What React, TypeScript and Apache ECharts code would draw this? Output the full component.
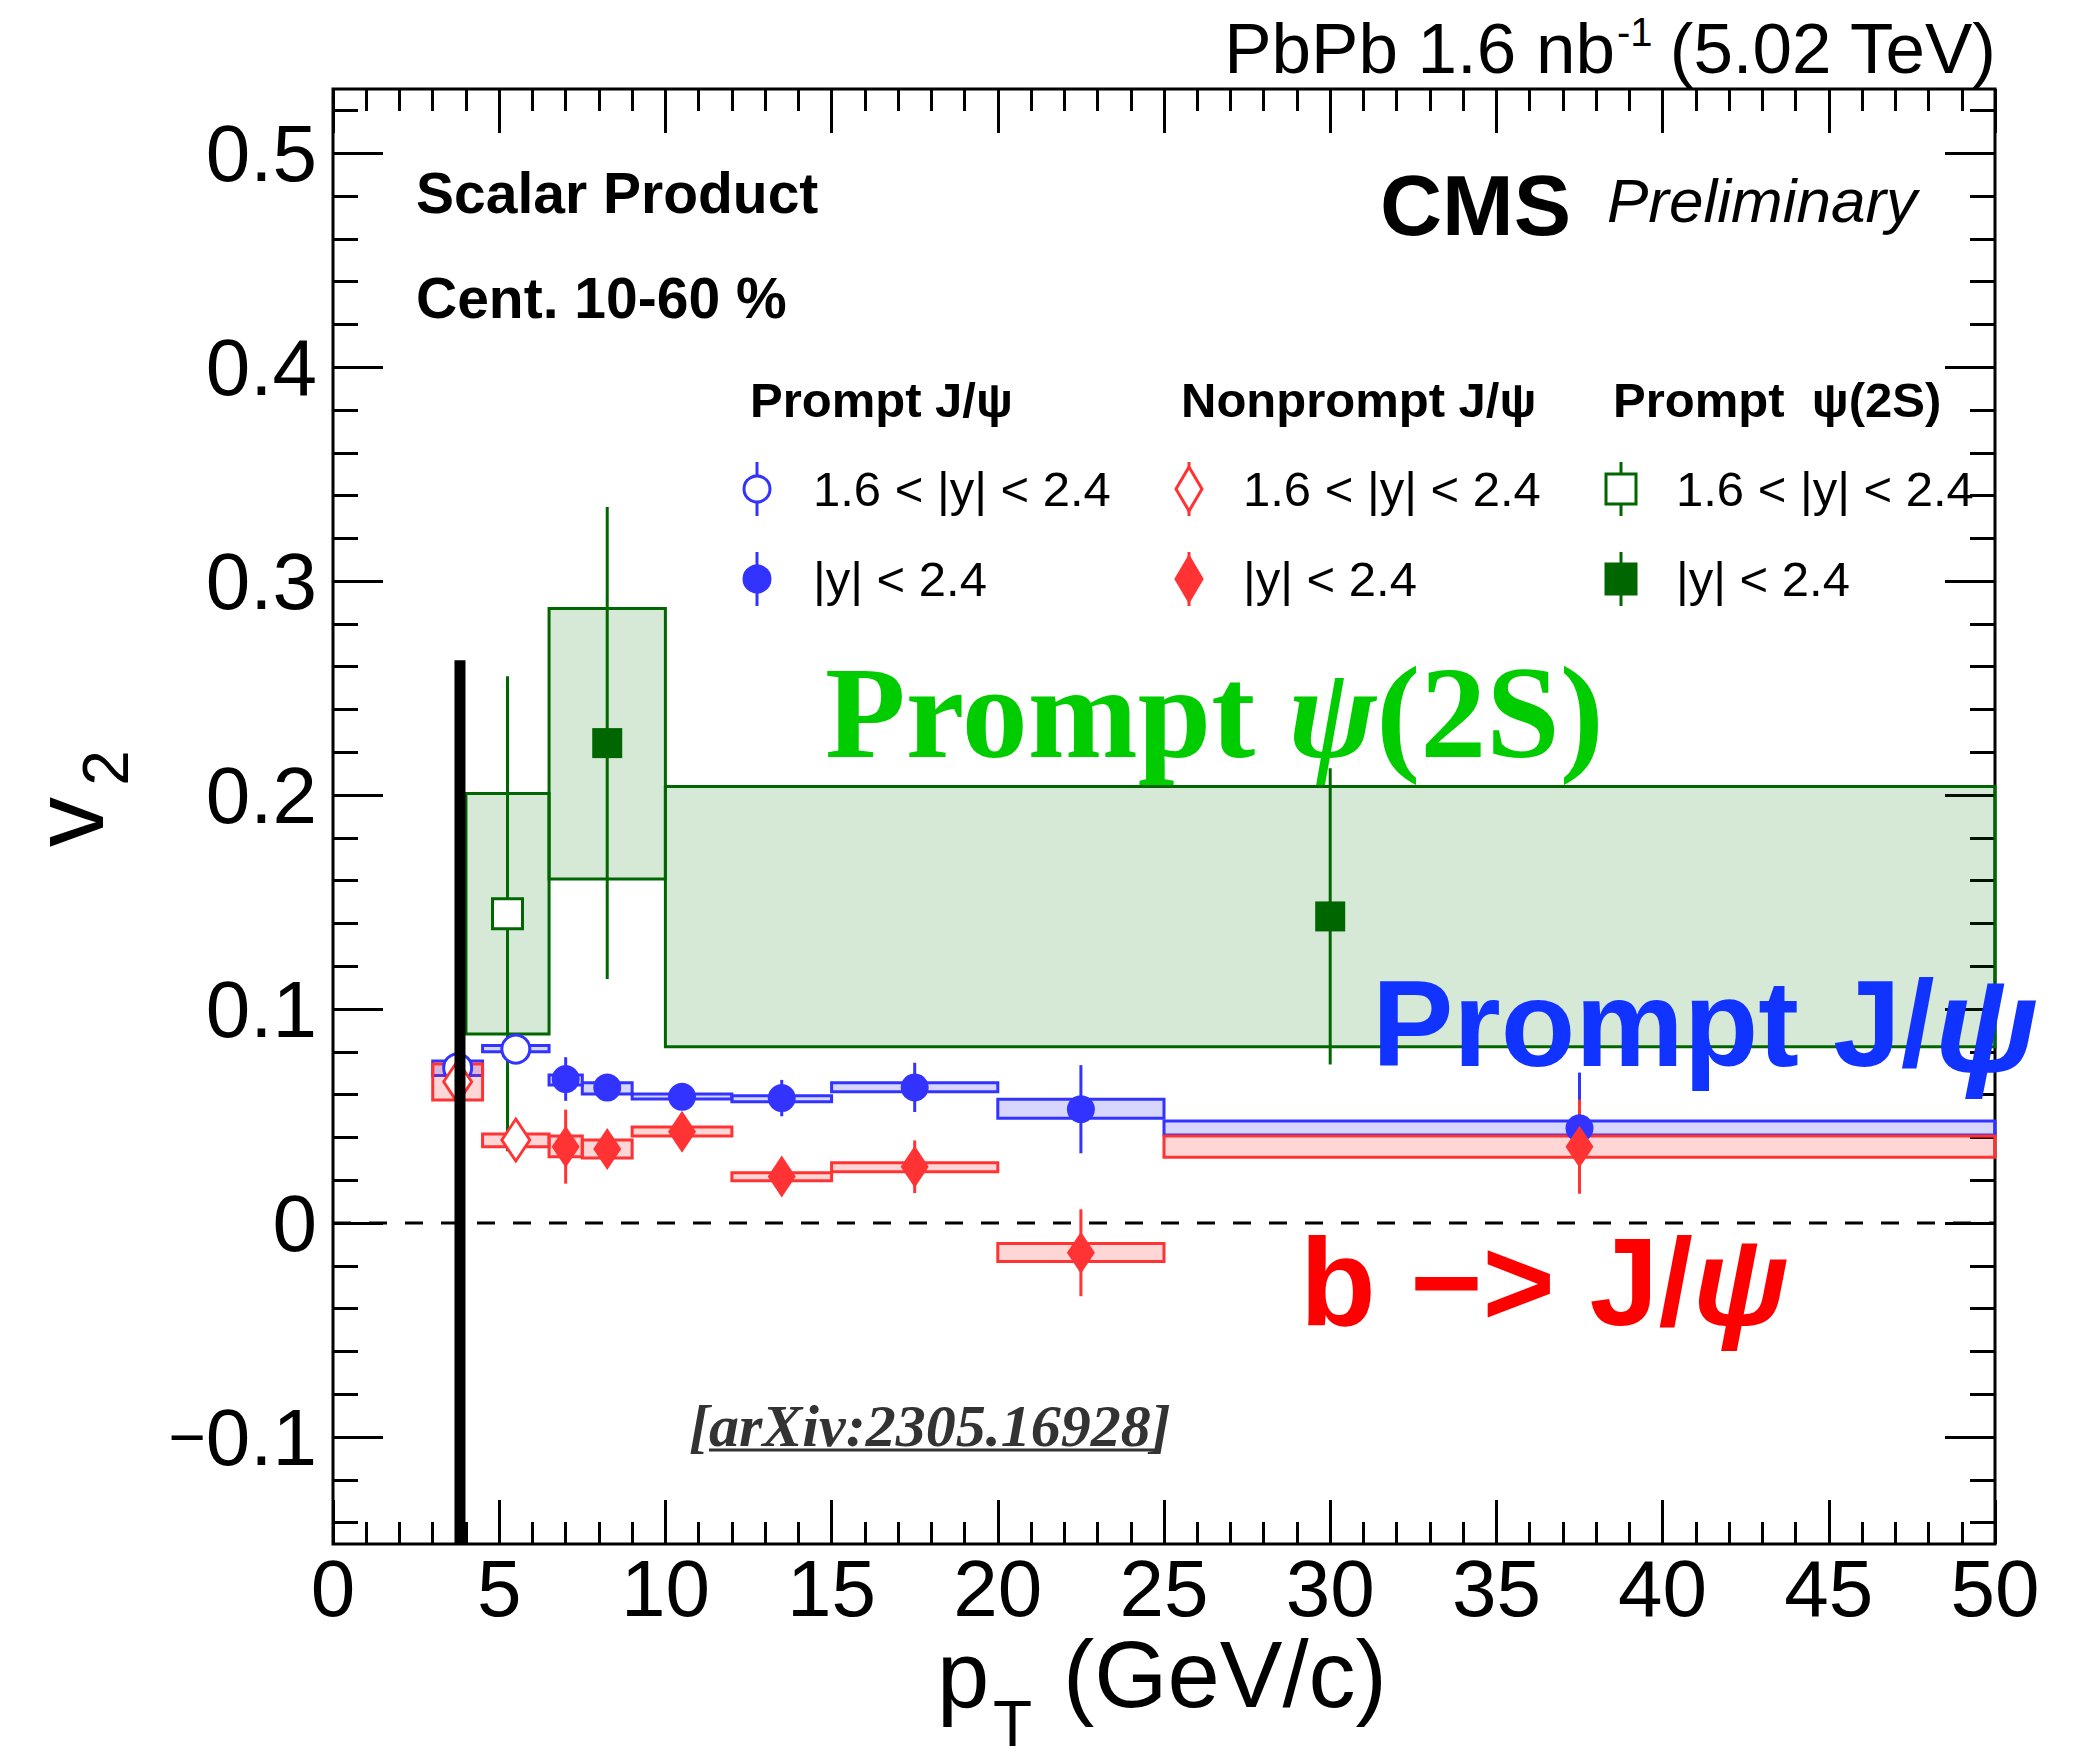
import React, { useEffect, useRef } from "react";
import * as echarts from "echarts";

const SANS = '"Liberation Sans", Arial, Helvetica, sans-serif';
const SERIF = '"Liberation Serif", "Times New Roman", serif';

// ---- axes ----
const xMin = 0;
const xMax = 50;
const xStep = 5;
const yMin = -0.15;
const yMax = 0.53;
const yMajorTicks = [-0.1, 0, 0.1, 0.2, 0.3, 0.4, 0.5];
const yMinorTicks = [
  -0.14, -0.12, -0.08, -0.06, -0.04, -0.02, 0.02, 0.04, 0.06, 0.08, 0.12, 0.14,
  0.16, 0.18, 0.22, 0.24, 0.26, 0.28, 0.32, 0.34, 0.36, 0.38, 0.42, 0.44, 0.46,
  0.48, 0.52,
];

// ---- Prompt J/psi, 1.6<|y|<2.4 (open circles) ----
const pjLowPt = [3.75, 5.5];
const pjLowV2 = [0.0725, 0.0813];
const pjLowStat = [0.004, 0.004];
const pjLowBinLo = [3.0, 4.5];
const pjLowBinHi = [4.5, 6.5];
const pjLowSysLo = [0.069, 0.08];
const pjLowSysHi = [0.0757, 0.083];

// ---- Prompt J/psi, |y|<2.4 (filled circles) ----
const pjPt = [7.0, 8.25, 10.5, 13.5, 17.5, 22.5, 37.5];
const pjV2 = [0.0673, 0.0633, 0.059, 0.0584, 0.0634, 0.0532, 0.0443];
const pjStat = [0.0102, 0.005, 0.005, 0.0085, 0.0115, 0.0206, 0.026];
const pjBinLo = [6.5, 7.5, 9, 12, 15, 20, 25];
const pjBinHi = [7.5, 9, 12, 15, 20, 25, 50];
const pjSysLo = [0.0645, 0.0603, 0.058, 0.0567, 0.0614, 0.049, 0.0411];
const pjSysHi = [0.0692, 0.0656, 0.0603, 0.0595, 0.0656, 0.0578, 0.0477];

// ---- Nonprompt J/psi, 1.6<|y|<2.4 (open diamonds) ----
const npLowPt = [3.75, 5.5];
const npLowV2 = [0.066, 0.0388];
const npLowStat = [0.008, 0.008];
const npLowBinLo = [3.0, 4.5];
const npLowBinHi = [4.5, 6.5];
const npLowSysLo = [0.0575, 0.0357];
const npLowSysHi = [0.0743, 0.0416];

// ---- Nonprompt J/psi, |y|<2.4 (filled diamonds) ----
const npPt = [7.0, 8.25, 10.5, 13.5, 17.5, 22.5, 37.5];
const npV2 = [0.0357, 0.0346, 0.0427, 0.0217, 0.0263, -0.0139, 0.0357];
const npStat = [0.0173, 0.008, 0.007, 0.008, 0.0123, 0.0203, 0.022];
const npBinLo = [6.5, 7.5, 9, 12, 15, 20, 25];
const npBinHi = [7.5, 9, 12, 15, 20, 25, 50];
const npSysLo = [0.031, 0.0304, 0.0407, 0.0198, 0.024, -0.018, 0.0307];
const npSysHi = [0.0407, 0.0388, 0.0449, 0.0235, 0.0282, -0.0096, 0.0407];

// ---- Prompt psi(2S), 1.6<|y|<2.4 (open square) ----
const psLowPt = [5.25];
const psLowV2 = [0.1445];
const psLowStat = [0.111];
const psLowBinLo = [4.0];
const psLowBinHi = [6.5];
const psLowSysLo = [0.0884];
const psLowSysHi = [0.2008];

// ---- Prompt psi(2S), |y|<2.4 (filled squares) ----
const psPt = [8.25, 30];
const psV2 = [0.2243, 0.1433];
const psStat = [0.1103, 0.0692];
const psBinLo = [6.5, 10];
const psBinHi = [10, 50];
const psSysLo = [0.1608, 0.0824];
const psSysHi = [0.2872, 0.204];

// ---- vertical black line ----
const blackLinePt = 3.82;
const blackLineV2 = [-0.15, 0.263];

// ---- colours ----
const BLUE = "#3333ff";
const BLUE_FILL = "rgba(51,51,255,0.2)";
const RED = "#ff3333";
const RED_FILL = "rgba(255,51,51,0.2)";
const GREEN = "#006600";
const GREEN_FILL = "rgba(0,110,0,0.16)";

const boxData = (lo: number[], hi: number[], ylo: number[], yhi: number[]) =>
  lo.map((l, i) => [l, hi[i], ylo[i], yhi[i]]);
const errData = (pt: number[], v: number[], e: number[]) =>
  pt.map((p, i) => [p, v[i] - e[i], v[i] + e[i]]);
const ptData = (pt: number[], v: number[]) => pt.map((p, i) => [p, v[i]]);

const boxSeries = (data: number[][], fill: string, stroke: string, z: number) => ({
  type: "custom",
  silent: true,
  z,
  data,
  encode: { x: [0, 1], y: [2, 3] },
  renderItem: (_p: any, api: any) => {
    const a = api.coord([api.value(0), api.value(3)]);
    const b = api.coord([api.value(1), api.value(2)]);
    return {
      type: "rect",
      shape: { x: a[0], y: a[1], width: b[0] - a[0], height: b[1] - a[1] },
      style: { fill, stroke, lineWidth: 3 },
    };
  },
});

const errSeries = (data: number[][], color: string, z: number) => ({
  type: "custom",
  silent: true,
  z,
  data,
  encode: { x: 0, y: [1, 2] },
  renderItem: (_p: any, api: any) => {
    const a = api.coord([api.value(0), api.value(1)]);
    const b = api.coord([api.value(0), api.value(2)]);
    return {
      type: "line",
      shape: { x1: a[0], y1: a[1], x2: b[0], y2: b[1] },
      style: { stroke: color, lineWidth: 3 },
    };
  },
});

const markerSeries = (
  data: number[][],
  symbol: string,
  size: any,
  color: string,
  open: boolean,
  z: number
) => ({
  type: "scatter",
  silent: true,
  z,
  data,
  symbol,
  symbolSize: size,
  itemStyle: open
    ? { color: "#ffffff", borderColor: color, borderWidth: 3, opacity: 1 }
    : { color, opacity: 1 },
});

const yFmt = (v: number) => {
  const r = Math.round(v * 10) / 10;
  if (r === 0) return "0";
  return r < 0 ? "{m|\u2212}" + (-r).toFixed(1) : r.toFixed(1);
};

const tickLine = { color: "#000", width: 3 };

function buildOption() {
  const T = (
    x: number,
    y: number,
    text: string,
    fontSize: number,
    extra: any = {}
  ) => ({
    type: "text",
    z: 100,
    x,
    y,
    style: {
      text,
      fontSize,
      fontFamily: SANS,
      fill: "#000",
      align: "left",
      verticalAlign: "middle",
      ...extra,
    },
  });

  const legendX = [757, 1189, 1621];
  const legendTextX = [813, 1243, 1676];
  const rowY = [489, 579];
  const legendColors = [BLUE, RED, GREEN];

  const legendEls: any[] = [];
  for (let c = 0; c < 3; c++) {
    for (let r = 0; r < 2; r++) {
      const cx = legendX[c];
      const cy = rowY[r];
      const col = legendColors[c];
      const fill = r === 0 ? "#ffffff" : col;
      legendEls.push({
        type: "line",
        z: 100,
        shape: { x1: cx, y1: cy - 27, x2: cx, y2: cy + 27 },
        style: { stroke: col, lineWidth: 3 },
      });
      if (c === 0) {
        legendEls.push({
          type: "circle",
          z: 101,
          shape: { cx, cy, r: 13 },
          style: { fill, stroke: col, lineWidth: 3 },
        });
      } else if (c === 1) {
        legendEls.push({
          type: "polygon",
          z: 101,
          shape: {
            points: [
              [cx, cy - 22],
              [cx + 13, cy],
              [cx, cy + 22],
              [cx - 13, cy],
            ],
          },
          style: { fill, stroke: col, lineWidth: 3 },
        });
      } else {
        legendEls.push({
          type: "rect",
          z: 101,
          shape: { x: cx - 15, y: cy - 15, width: 30, height: 30 },
          style: { fill, stroke: col, lineWidth: 3 },
        });
      }
      legendEls.push(
        T(legendTextX[c], cy, r === 0 ? "1.6 < |y| < 2.4" : "|y| < 2.4", 49)
      );
    }
  }

  const graphic: any[] = [
    // top right luminosity
    T(1615, 48, "PbPb 1.6 nb", 71, { align: "right" }),
    T(1617, 32, "-1", 40),
    T(1996, 48, "(5.02 TeV)", 71, { align: "right" }),
    // info text
    T(416, 193, "Scalar Product", 57, { fontWeight: "bold" }),
    T(416, 298, "Cent. 10-60 %", 57, { fontWeight: "bold" }),
    T(1380, 205, "CMS", 86, { fontWeight: "bold" }),
    T(1607, 200, "Preliminary", 62, { fontStyle: "italic" }),
    // legend headers
    T(750, 400, "Prompt J/ψ", 49, { fontWeight: "bold" }),
    T(1181, 400, "Nonprompt J/ψ", 49, { fontWeight: "bold" }),
    T(1613, 400, "Prompt  ψ(2S)", 49, { fontWeight: "bold" }),
    ...legendEls,
    // big labels
    {
      type: "text",
      z: 100,
      x: 825,
      y: 712,
      style: {
        text: "{a|Prompt }{p|ψ}{a|(2S)}",
        verticalAlign: "middle",
        rich: {
          a: { fontFamily: SERIF, fontWeight: "bold", fontSize: 132, fill: "#00cc00" },
          p: { fontFamily: SERIF, fontWeight: "bold", fontStyle: "italic", fontSize: 132, fill: "#00cc00" },
        },
      },
    },
    {
      type: "text",
      z: 100,
      x: 1372,
      y: 1024,
      style: {
        text: "{a|Prompt J/}{p|ψ}",
        verticalAlign: "middle",
        rich: {
          a: { fontFamily: SANS, fontWeight: "bold", fontSize: 122, fill: "#1133ff" },
          p: { fontFamily: SANS, fontWeight: "bold", fontStyle: "italic", fontSize: 134, fill: "#1133ff" },
        },
      },
    },
    {
      type: "text",
      z: 100,
      x: 1300,
      y: 1282,
      style: {
        text: "{a|b \u2212> J/}{p|ψ}",
        verticalAlign: "middle",
        rich: {
          a: { fontFamily: SANS, fontWeight: "bold", fontSize: 124, fill: "#ff0000" },
          p: { fontFamily: SANS, fontWeight: "bold", fontStyle: "italic", fontSize: 124, fill: "#ff0000" },
        },
      },
    },
    // arXiv reference
    T(689, 1426, "[arXiv:2305.16928]", 60, {
      fontFamily: SERIF,
      fontStyle: "italic",
      fontWeight: "bold",
      fill: "#333333",
    }),
    {
      type: "line",
      z: 100,
      shape: { x1: 709, y1: 1450, x2: 1158, y2: 1450 },
      style: { stroke: "#333333", lineWidth: 3 },
    },
    // axis titles
    {
      type: "text",
      z: 100,
      x: 68,
      y: 822,
      rotation: Math.PI / 2,
      style: { text: "v", fontSize: 100, fontFamily: SANS, fill: "#000", align: "center", verticalAlign: "middle" },
    },
    {
      type: "text",
      z: 100,
      x: 106,
      y: 768,
      rotation: Math.PI / 2,
      style: { text: "2", fontSize: 64, fontFamily: SANS, fill: "#000", align: "center", verticalAlign: "middle" },
    },
    T(937, 1674, "p", 94, { lineHeight: 70 }),
    T(993, 1724, "T", 64, { lineHeight: 50 }),
    T(1063, 1674, "(GeV/c)", 94, { lineHeight: 70 }),
  ];

  const xBase = (position: string, labels: boolean) => ({
    type: "value",
    position,
    min: xMin,
    max: xMax,
    interval: xStep,
    axisLine: { show: false, onZero: false },
    splitLine: { show: false },
    axisTick: { show: true, inside: true, length: 44, lineStyle: tickLine },
    minorTick: { show: true, splitNumber: 5, length: 22, lineStyle: tickLine },
    axisLabel: labels
      ? { show: true, fontSize: 80, fontFamily: SANS, color: "#000", margin: 12, lineHeight: 64 }
      : { show: false },
  });

  const yBase = (position: string, ticks: number[], len: number, labels: boolean) => ({
    type: "value",
    position,
    min: yMin,
    max: yMax,
    axisLine: { show: false, onZero: false },
    splitLine: { show: false },
    axisTick: { show: true, inside: true, length: len, lineStyle: tickLine, customValues: ticks },
    axisLabel: labels
      ? {
          show: true,
          customValues: ticks,
          formatter: yFmt,
          fontSize: 80,
          fontFamily: SANS,
          color: "#000",
          margin: 16,
          rich: { m: { fontSize: 64, fontFamily: SANS, color: "#000" } },
        }
      : { show: false },
  });

  const series: any[] = [
    {
      type: "line",
      silent: true,
      z: 1,
      data: [
        [xMin, 0],
        [xMax, 0],
      ],
      symbol: "none",
      lineStyle: { color: "#000", width: 3, type: [18, 18] },
    },
    boxSeries(boxData(psLowBinLo, psLowBinHi, psLowSysLo, psLowSysHi), GREEN_FILL, GREEN, 2),
    boxSeries(boxData(psBinLo, psBinHi, psSysLo, psSysHi), GREEN_FILL, GREEN, 2),
    boxSeries(boxData(pjLowBinLo, pjLowBinHi, pjLowSysLo, pjLowSysHi), BLUE_FILL, BLUE, 3),
    boxSeries(boxData(pjBinLo, pjBinHi, pjSysLo, pjSysHi), BLUE_FILL, BLUE, 3),
    boxSeries(boxData(npLowBinLo, npLowBinHi, npLowSysLo, npLowSysHi), RED_FILL, RED, 3),
    boxSeries(boxData(npBinLo, npBinHi, npSysLo, npSysHi), RED_FILL, RED, 3),
    errSeries(errData(psLowPt, psLowV2, psLowStat), GREEN, 4),
    errSeries(errData(psPt, psV2, psStat), GREEN, 4),
    markerSeries(ptData(psLowPt, psLowV2), "rect", 30, GREEN, true, 5),
    markerSeries(ptData(psPt, psV2), "rect", 30, GREEN, false, 5),
    errSeries(errData(pjLowPt, pjLowV2, pjLowStat), BLUE, 6),
    errSeries(errData(pjPt, pjV2, pjStat), BLUE, 6),
    errSeries(errData(npLowPt, npLowV2, npLowStat), RED, 6),
    errSeries(errData(npPt, npV2, npStat), RED, 6),
    markerSeries(ptData(pjLowPt, pjLowV2), "circle", 28, BLUE, true, 7),
    markerSeries(ptData(pjPt, pjV2), "circle", 28, BLUE, false, 7),
    markerSeries(ptData(npLowPt, npLowV2), "diamond", [28, 42], RED, true, 8),
    markerSeries(ptData(npPt, npV2), "diamond", [28, 42], RED, false, 8),
    {
      type: "line",
      silent: true,
      z: 20,
      data: blackLineV2.map((v) => [blackLinePt, v]),
      symbol: "none",
      lineStyle: { color: "#000", width: 11 },
    },
  ];

  return {
    animation: false,
    backgroundColor: "#ffffff",
    grid: {
      left: 333,
      top: 89,
      width: 1662,
      height: 1455,
      show: true,
      borderColor: "#000",
      borderWidth: 3,
      backgroundColor: "transparent",
      containLabel: false,
    },
    xAxis: [xBase("bottom", true), xBase("top", false)],
    yAxis: [
      yBase("left", yMajorTicks, 50, true),
      yBase("left", yMinorTicks, 25, false),
      yBase("right", yMajorTicks, 50, false),
      yBase("right", yMinorTicks, 25, false),
    ],
    series,
    graphic,
  };
}

export default function App() {
  const ref = useRef<HTMLDivElement>(null);
  useEffect(() => {
    if (!ref.current) return;
    const chart = echarts.init(ref.current, null, { renderer: "svg" });
    chart.setOption(buildOption() as any);
    return () => chart.dispose();
  }, []);
  return (
    <div
      ref={ref}
      style={{
        position: "fixed",
        left: 0,
        top: 0,
        width: 2090,
        height: 1754,
        background: "#fff",
      }}
    />
  );
}
